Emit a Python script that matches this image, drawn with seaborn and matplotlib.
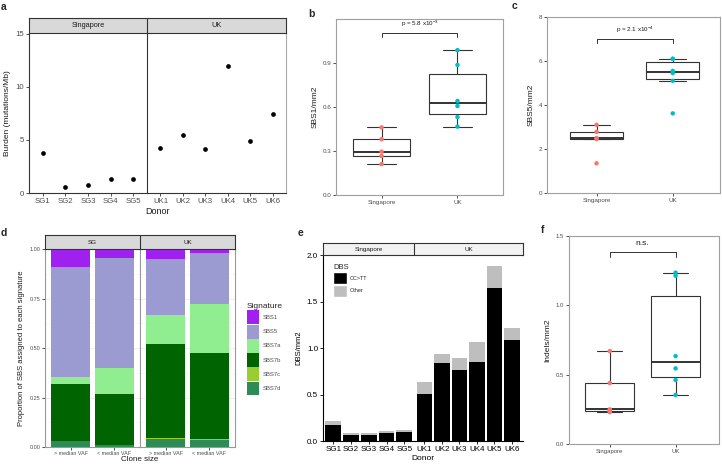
import numpy as np
import pandas as pd
import matplotlib
matplotlib.use('Agg')
import matplotlib.pyplot as plt
import seaborn as sns
from matplotlib.patches import Patch

sns.set_theme(style='white')
plt.rcParams['font.family'] = ['Liberation Sans', 'DejaVu Sans']
plt.rcParams['mathtext.default'] = 'regular'

# ---------------- data ----------------
sg_donors = ['SG1', 'SG2', 'SG3', 'SG4', 'SG5']
uk_donors = ['UK1', 'UK2', 'UK3', 'UK4', 'UK5', 'UK6']
sg_burden = [3.75, 0.6, 0.75, 1.3, 1.32]
uk_burden = [4.25, 5.5, 4.15, 11.9, 4.85, 7.4]

sbs1_sg = [0.21, 0.265, 0.295, 0.38, 0.46]
sbs1_uk = [0.465, 0.53, 0.605, 0.64, 0.885, 0.985]
sbs5_sg = [1.35, 2.45, 2.5, 2.78, 3.1]
sbs5_uk = [3.62, 5.1, 5.45, 5.55, 6.1, 6.1]
indel_sg = [0.23, 0.24, 0.25, 0.44, 0.67]
indel_uk = [0.354, 0.462, 0.545, 0.634, 1.214, 1.236]

clone_groups = ['> median VAF', '< median VAF']
signatures = ['SBS1', 'SBS5', 'SBS7a', 'SBS7b', 'SBS7c', 'SBS7d']
sig_colors = ['#A020F0', '#9B9BD2', '#90EE90', '#006400', '#9ACD32', '#2E8B57']
# proportions per group: order SBS1, SBS5, SBS7a, SBS7b, SBS7c, SBS7d
prop_sg_hi = [0.091, 0.557, 0.032, 0.290, 0.000, 0.030]
prop_sg_lo = [0.047, 0.553, 0.130, 0.260, 0.000, 0.010]
prop_uk_hi = [0.050, 0.285, 0.145, 0.475, 0.005, 0.040]
prop_uk_lo = [0.022, 0.258, 0.245, 0.433, 0.009, 0.033]

dbs_cctt_sg = [0.17, 0.065, 0.065, 0.082, 0.097]
dbs_other_sg = [0.045, 0.025, 0.025, 0.025, 0.021]
dbs_cctt_uk = [0.508, 0.84, 0.766, 0.845, 1.65, 1.084]
dbs_other_uk = [0.122, 0.10, 0.128, 0.215, 0.23, 0.132]

country_colors = ['#F8766D', '#00BFC4']

# ---------------- figure ----------------
W, H = 722, 469
fig = plt.figure(figsize=(W / 100, H / 100), dpi=100)


def axp(x0, y0, x1, y1):
    return fig.add_axes([x0 / W, 1 - y1 / H, (x1 - x0) / W, (y1 - y0) / H])


DARK = '#333333'
TXT = '#4D4D4D'


def style_ticks(ax, size, color=TXT):
    ax.tick_params(axis='both', length=2, width=0.6, color=DARK, labelsize=size,
                   labelcolor=color, pad=1.5, bottom=True, left=True)


def strip(x0, y0, x1, y1, labels, splits, fc='#D9D9D9', size=5.5):
    sa = axp(x0, y0, x1, y1)
    sa.set_xlim(x0, x1)
    sa.set_ylim(0, 1)
    sa.set_facecolor(fc)
    for s in sa.spines.values():
        s.set_color(DARK)
        s.set_linewidth(0.8)
    sa.set_xticks([])
    sa.set_yticks([])
    edges = [x0] + splits + [x1]
    for i, lab in enumerate(labels):
        sa.text((edges[i] + edges[i + 1]) / 2, 0.5, lab, ha='center', va='center',
                fontsize=size, color='#1A1A1A')
    for s in splits:
        sa.axvline(s, color=DARK, lw=0.8)
    return sa


# ---------- panel a ----------
axa1 = axp(29, 33, 147, 193)
axa2 = axp(147, 33, 286, 193)
sns.stripplot(x=sg_donors, y=sg_burden, jitter=False, color='black', size=3.4, ax=axa1)
sns.stripplot(x=uk_donors, y=uk_burden, jitter=False, color='black', size=3.4, ax=axa2)
for ax, n in ((axa1, 5), (axa2, 6)):
    ax.set_xlim(-0.6, n - 0.4)
    ax.set_ylim(0, 15.05)
    ax.set_facecolor('white')
    style_ticks(ax, 5.6)
    for s in ax.spines.values():
        s.set_linewidth(0.8)
    ax.spines['top'].set_visible(False)
axa1.spines['right'].set_visible(False)
axa1.spines['left'].set_color(DARK)
axa1.spines['bottom'].set_color(DARK)
axa2.spines['left'].set_color(DARK)
axa2.spines['bottom'].set_color(DARK)
axa2.spines['right'].set_color('#AAAAAA')
axa1.set_yticks([0, 5, 10, 15])
axa2.set_yticks([])
axa2.tick_params(left=False)
axa1.set_ylabel('Burden (mutations/Mb)', fontsize=6, color='#1A1A1A', labelpad=3)
fig.text(157 / W, 1 - 211 / H, 'Donor', ha='center', va='center', fontsize=6.5, color='#1A1A1A')
strip(29, 18, 286, 33, ['Singapore', 'UK'], [147], size=5.3)


# ---------- box panels ----------
def boxpanel(ax, sg, uk, ylim, yticks, ylab, bracket, label, xl, width, tsize=4.5):
    df = pd.DataFrame({'Country': ['Singapore'] * len(sg) + ['UK'] * len(uk),
                       'val': sg + uk})
    sns.boxplot(data=df, x='Country', y='val', ax=ax, color='white', linecolor=DARK,
                linewidth=0.8, showfliers=False, width=width, saturation=1,
                medianprops=dict(linewidth=1.4), whis=1.5)
    sns.stripplot(data=df, x='Country', y='val', hue='Country', palette=country_colors,
                  jitter=False, size=3.2, ax=ax, legend=False, zorder=5)
    ax.set_xlim(*xl)
    ax.set_ylim(*ylim)
    ax.set_yticks(yticks)
    ax.set_yticklabels([('%g' % t) if isinstance(t, int) else ('%.1f' % t) for t in yticks])
    ax.set_facecolor('white')
    for s in ax.spines.values():
        s.set_color('#A0A0A0')
        s.set_linewidth(0.8)
    style_ticks(ax, tsize)
    ax.set_xlabel('')
    ax.set_ylabel(ylab, fontsize=6, color='#1A1A1A', labelpad=3)
    yb, dy = bracket
    ax.plot([0, 0, 1, 1], [yb - dy, yb, yb, yb - dy], color=DARK, lw=0.7)
    t = ax.text(0.5, yb + (ylim[1] - ylim[0]) * 0.025, label, ha='center', va='bottom',
                fontsize=4.5, color='#1A1A1A')
    return t


axb = axp(336, 19, 503, 195)
boxpanel(axb, sbs1_sg, sbs1_uk, (0, 1.197), [0.0, 0.3, 0.6, 0.9], 'SBS1/mm2',
         (1.10, 0.025), r'p = 5.8 x10$^{-3}$', (-0.6, 1.6), 0.75)
axc = axp(547, 17, 720, 193)
boxpanel(axc, sbs5_sg, sbs5_uk, (0, 8), [0, 2, 4, 6, 8], 'SBS5/mm2',
         (7.0, 0.2), r'p = 2.1 x10$^{-4}$', (-0.65, 1.62), 0.7)
axf = axp(569, 236, 719, 444)
tf = boxpanel(axf, indel_sg, indel_uk, (0, 1.5), [0.0, 0.5, 1.0, 1.5], 'Indels/mm2',
              (1.385, 0.035), 'n.s.', (-0.62, 1.66), 0.75, tsize=4.3)
tf.set_fontsize(6)

# ---------- panel d ----------
axd1 = axp(45, 249, 140, 447)
axd2 = axp(140, 249, 235, 447)
props = {'SG': (prop_sg_hi, prop_sg_lo), 'UK': (prop_uk_hi, prop_uk_lo)}
for ax, key in ((axd1, 'SG'), (axd2, 'UK')):
    hi, lo = props[key]
    cum_hi = np.cumsum(hi[::-1])[::-1]  # cumulative from bottom (SBS7d) to top (SBS1)
    cum_lo = np.cumsum(lo[::-1])[::-1]
    ax.set_axisbelow(True)
    ax.set_yticks([0, 0.25, 0.5, 0.75, 1.0])
    ax.set_yticks([0.125, 0.375, 0.625, 0.875], minor=True)
    ax.grid(True, which='major', color='#EBEBEB', lw=0.6)
    ax.grid(True, which='minor', axis='y', color='#F3F3F3', lw=0.4)
    for i, (sig, col) in enumerate(zip(signatures, sig_colors)):
        sns.barplot(x=clone_groups, y=[cum_hi[i], cum_lo[i]], color=col, saturation=1,
                    width=0.9, errorbar=None, ax=ax, linewidth=0)
    ax.set_xlim(-0.6, 1.6)
    ax.set_ylim(0, 1.0)
    ax.set_facecolor('white')
    for s in ax.spines.values():
        s.set_color('#999999')
        s.set_linewidth(0.8)
    style_ticks(ax, 4.0)
    ax.tick_params(axis='x', pad=1.0, labelsize=3.9)
    ax.tick_params(which='minor', length=0)
axd1.set_yticklabels(['0.00', '0.25', '0.50', '0.75', '1.00'])
axd2.set_yticklabels([])
axd2.tick_params(axis='y', length=0)
axd1.set_ylabel('Proportion of SBS assigned to each signature', fontsize=5.5,
                color='#1A1A1A', labelpad=3)
fig.text(140 / W, 1 - 459 / H, 'Clone size', ha='center', va='center', fontsize=5.8, color='#1A1A1A')
strip(45, 235, 235, 249, ['SG', 'UK'], [140], size=4.5)

handles = [Patch(facecolor=c, edgecolor='none') for c in sig_colors]
legd = fig.legend(handles, signatures, loc='upper left', bbox_to_anchor=(243 / W, 1 - 299 / H),
                  title='Signature', frameon=False, fontsize=4.2, title_fontsize=6,
                  handlelength=2.1, handleheight=3.3, labelspacing=0.05, handletextpad=0.6,
                  borderpad=0.2)
legd._legend_box.align = 'left'
for t in legd.get_texts():
    t.set_color(TXT)

# ---------- panel e ----------
axe1 = axp(323, 255, 414, 441)
axe2 = axp(414, 255, 523, 441)
for ax, donors, cc, oth in ((axe1, sg_donors, dbs_cctt_sg, dbs_other_sg),
                            (axe2, uk_donors, dbs_cctt_uk, dbs_other_uk)):
    total = [a + b for a, b in zip(cc, oth)]
    sns.barplot(x=donors, y=total, color='#BEBEBE', saturation=1, width=0.88,
                errorbar=None, ax=ax, linewidth=0)
    sns.barplot(x=donors, y=cc, color='black', saturation=1, width=0.88,
                errorbar=None, ax=ax, linewidth=0)
    ax.set_ylim(0, 2.0)
    ax.set_facecolor('white')
    for side in ('top', 'right'):
        ax.spines[side].set_visible(False)
    for side in ('left', 'bottom'):
        ax.spines[side].set_color('black')
        ax.spines[side].set_linewidth(0.8)
    style_ticks(ax, 5.8, color='black')
    ax.tick_params(color='black')
axe1.set_xlim(-0.58, 4.55)
axe2.set_xlim(-0.6, 5.63)
axe1.set_yticks([0, 0.5, 1.0, 1.5, 2.0])
axe1.set_yticklabels(['0.0', '0.5', '1.0', '1.5', '2.0'])
axe2.set_yticks([])
axe2.spines['left'].set_visible(False)
axe1.set_ylabel('DBS/mm2', fontsize=5.5, color='black', labelpad=3)
fig.text(423 / W, 1 - 458 / H, 'Donor', ha='center', va='center', fontsize=6, color='black')
strip(323, 243, 523, 255, ['Singapore', 'UK'], [414], fc='#F2F2F2', size=4.5)
lege = axe1.legend([Patch(facecolor='black'), Patch(facecolor='#BEBEBE')], ['CC>TT', 'Other'],
                   loc='upper left', bbox_to_anchor=(0.07, 0.97), title='DBS', frameon=False,
                   fontsize=4, title_fontsize=5.5, handlelength=2.4, handleheight=3.0,
                   labelspacing=0.1, handletextpad=0.6, borderpad=0.2)
lege._legend_box.align = 'left'

# ---------- panel labels ----------
for lab, x, y in (('a', 4, 7), ('b', 311, 14), ('c', 514, 6), ('d', 4, 233),
                  ('e', 300, 233), ('f', 543, 230)):
    fig.text(x / W, 1 - y / H, lab, fontsize=7.5, fontweight='bold', ha='center', va='center')

fig.savefig('out.png', dpi=100)
